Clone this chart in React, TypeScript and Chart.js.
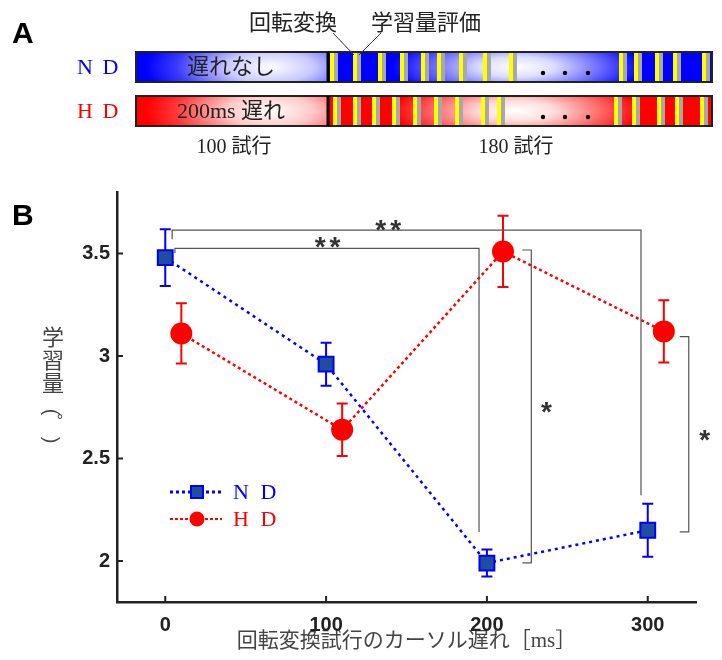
import React, { useEffect, useRef } from 'react';
import { Chart, registerables } from 'chart.js';
Chart.register(...registerables);

// ---------- data (panel B) ----------
const delays = [0, 100, 200, 300];
const hdOffset = 10;
const ndMean = [3.48, 2.96, 1.99, 2.15];
const ndErr = [0.138, 0.105, 0.066, 0.129];
const hdMean = [3.11, 2.64, 3.51, 3.12];
const hdErr = [0.147, 0.128, 0.174, 0.152];
const xTicks = [0, 100, 200, 300];
const yTicks = [2, 2.5, 3, 3.5];
const xRange = [-30, 330];
const yRange = [1.8, 3.8];
const seriesNames = ['N D', 'H D'];
const xTitle = '回転変換試行のカーソル遅れ［ms］';
const yTitleChars = ['学', '習', '量'];
const yTitleUnit = ['(', '°', ')'];

// significance brackets, in data units: path points and star label
const bracketPaths = [
  [[6, 3.503], [6, 3.525], [195.1, 3.525], [195.1, 2.142]],
  [[4.3, 3.57], [4.3, 3.614], [295.8, 3.614], [295.8, 2.321]],
  [[222, 3.517], [227.6, 3.517], [227.6, 1.991], [222, 1.991]],
  [[319.9, 3.095], [325.5, 3.095], [325.5, 2.142], [319.9, 2.142]],
];
const bracketLabels = ['**', '**', '*', '*'];
const bracketLabelPos = [[100.9, 3.557], [138.6, 3.64], [237, 2.748], [335.4, 2.613]];

// ---------- schematic (panel A) ----------
const ndStripes = [330, 353, 378, 400, 421, 437, 459, 483, 509, 619, 634, 655, 673, 702];
const hdStripes = [333, 353, 372, 392, 413, 434, 455, 481, 497, 614, 632, 657, 675, 700];
const blockLabels = ['100 試行', '180 試行'];
const trialLabels = ['回転変換', '学習量評価'];
const conditionTexts = ['遅れなし', '200ms 遅れ'];

const BLUE = '#0000ff';
const RED = '#ff0000';
const SQFILL = '#1f4e9e';
const SANS = '"Liberation Sans", Arial, sans-serif';
const CJK = '"Noto Sans CJK JP", sans-serif';
const SERIF_MIX = '"Liberation Serif", "Noto Sans CJK JP", serif';

function ellipseGrad(ctx, x, y, w, h, cx, cy, rx, ry, stops) {
  ctx.save();
  ctx.beginPath();
  ctx.rect(x, y, w, h);
  ctx.clip();
  ctx.translate(cx, cy);
  ctx.scale(rx / ry, 1);
  const g = ctx.createRadialGradient(0, 0, 0, 0, 0, ry);
  stops.forEach(([o, c]) => g.addColorStop(o, c));
  ctx.fillStyle = g;
  ctx.fillRect(((x - cx) * ry) / rx - 2, y - cy - 2, (w * ry) / rx + 4, h + 4);
  ctx.restore();
}

function drawPanelA(ctx) {
  const L = 136, R = 712, S = 328, H = 30;
  const rows = [
    { y: 52, base: BLUE, light: ['#ffffff', '#c8c8ff', '#3a3aff'], mid: ['#ffffff', '#dcdcff', '#7070ff'], stripes: ndStripes, color: BLUE },
    { y: 96, base: RED, light: ['#ffffff', '#ffc8c8', '#ff3a3a'], mid: ['#ffffff', '#ffdcdc', '#ff7070'], stripes: hdStripes, color: RED },
  ];
  rows.forEach((r, k) => {
    ctx.fillStyle = r.base;
    ctx.fillRect(L, r.y, R - L, H);
    ellipseGrad(ctx, L, r.y, S - L, H, 270, r.y + H / 2, 125, 45,
      [[0, r.light[0]], [0.35, r.light[1]], [0.75, r.light[2]], [1, r.base]]);
    ellipseGrad(ctx, S, r.y, R - S, H, 517, r.y + H / 2, 125, 34,
      [[0, r.mid[0]], [0.3, r.mid[1]], [0.65, r.mid[2]], [1, r.base]]);
    r.stripes.forEach((sx) => {
      ctx.fillStyle = '#ffff00';
      ctx.fillRect(sx, r.y, 4, H);
      ctx.fillStyle = '#a8a8a8';
      ctx.fillRect(sx + 4, r.y, 4, H);
    });
    ctx.strokeStyle = '#222';
    ctx.lineWidth = 2;
    ctx.strokeRect(L, r.y, R - L, H);
    ctx.fillStyle = '#000';
    ctx.fillRect(S - 1.5, r.y, 3, H);
    // dots
    [543, 565, 588].forEach((dx) => {
      ctx.beginPath();
      ctx.arc(dx, r.y + 21, 2.2, 0, Math.PI * 2);
      ctx.fill();
    });
    // row label
    ctx.fillStyle = r.color;
    ctx.font = `22px ${SERIF_MIX}`;
    ctx.textAlign = 'left';
    ctx.textBaseline = 'middle';
    ctx.letterSpacing = '2px';
    ctx.fillText(seriesNames[k], 77, r.y + 16);
    ctx.letterSpacing = '0px';
    // condition text
    ctx.fillStyle = '#222';
    ctx.font = `22px ${SERIF_MIX}`;
    ctx.textAlign = 'center';
    ctx.fillText(conditionTexts[k], 231, r.y + 16);
  });
  ctx.fillStyle = '#222';
  ctx.font = `20px ${SERIF_MIX}`;
  ctx.textAlign = 'center';
  ctx.textBaseline = 'middle';
  ctx.fillText(blockLabels[0], 234, 148);
  ctx.fillText(blockLabels[1], 516, 148);
  ctx.font = `22px ${CJK}`;
  ctx.fillText(trialLabels[0], 293, 22);
  ctx.fillText(trialLabels[1], 426, 22);
  ctx.strokeStyle = '#333';
  ctx.lineWidth = 1;
  ctx.beginPath();
  ctx.moveTo(333, 33); ctx.lineTo(354, 55);
  ctx.moveTo(381, 33); ctx.lineTo(359, 55);
  ctx.stroke();
}

const customPlugin = {
  id: 'custom',
  beforeDatasetsDraw(chart) {
    const { ctx, scales: { x, y } } = chart;
    const series = [
      { xs: delays, m: ndMean, e: ndErr, c: BLUE },
      { xs: delays.map((d) => d + hdOffset), m: hdMean, e: hdErr, c: RED },
    ];
    ctx.save();
    series.forEach((s) => {
      ctx.strokeStyle = s.c;
      ctx.lineWidth = 2;
      s.xs.forEach((xv, i) => {
        const px = x.getPixelForValue(xv);
        const t = y.getPixelForValue(s.m[i] + s.e[i]);
        const b = y.getPixelForValue(s.m[i] - s.e[i]);
        ctx.beginPath();
        ctx.moveTo(px, t); ctx.lineTo(px, b);
        ctx.moveTo(px - 5.5, t); ctx.lineTo(px + 5.5, t);
        ctx.moveTo(px - 5.5, b); ctx.lineTo(px + 5.5, b);
        ctx.stroke();
      });
    });
    ctx.restore();
  },
  afterDraw(chart) {
    const { ctx, chartArea: ca, scales: { x, y } } = chart;
    ctx.save();
    // inward ticks
    ctx.strokeStyle = '#222';
    ctx.lineWidth = 2;
    ctx.beginPath();
    xTicks.forEach((v) => {
      const px = x.getPixelForValue(v);
      ctx.moveTo(px, ca.bottom); ctx.lineTo(px, ca.bottom - 6);
    });
    yTicks.forEach((v) => {
      const py = y.getPixelForValue(v);
      ctx.moveTo(ca.left, py); ctx.lineTo(ca.left + 6, py);
    });
    ctx.stroke();

    // brackets
    ctx.strokeStyle = '#555';
    ctx.lineWidth = 1.2;
    bracketPaths.forEach((p) => {
      ctx.beginPath();
      p.forEach(([dx, dy], i) => {
        const px = x.getPixelForValue(dx), py = y.getPixelForValue(dy);
        if (i === 0) ctx.moveTo(px, py); else ctx.lineTo(px, py);
      });
      ctx.stroke();
    });
    ctx.fillStyle = '#333';
    ctx.font = `bold 28px ${SANS}`;
    ctx.textAlign = 'center';
    ctx.textBaseline = 'middle';
    bracketLabels.forEach((t, i) => {
      const [dx, dy] = bracketLabelPos[i];
      ctx.letterSpacing = t.length > 1 ? '4px' : '0px';
      ctx.fillText(t, x.getPixelForValue(dx) + (t.length > 1 ? 2 : 0), y.getPixelForValue(dy) + 6);
    });
    ctx.letterSpacing = '0px';

    // legend
    const lx0 = 170, lx1 = 222, lmx = 197;
    const rowsY = [492, 519];
    ctx.setLineDash([3, 3]);
    ctx.lineWidth = 3;
    ctx.strokeStyle = BLUE;
    ctx.beginPath(); ctx.moveTo(lx0, rowsY[0]); ctx.lineTo(lx1, rowsY[0]); ctx.stroke();
    ctx.lineWidth = 2;
    ctx.setLineDash([3, 2]);
    ctx.strokeStyle = RED;
    ctx.beginPath(); ctx.moveTo(lx0, rowsY[1]); ctx.lineTo(lx1, rowsY[1]); ctx.stroke();
    ctx.setLineDash([]);
    ctx.fillStyle = SQFILL;
    ctx.strokeStyle = BLUE;
    ctx.lineWidth = 2;
    ctx.fillRect(lmx - 6, rowsY[0] - 6, 12, 12);
    ctx.strokeRect(lmx - 6, rowsY[0] - 6, 12, 12);
    ctx.fillStyle = RED;
    ctx.beginPath(); ctx.arc(lmx, rowsY[1], 7.5, 0, Math.PI * 2); ctx.fill();
    ctx.font = `22px ${SERIF_MIX}`;
    ctx.textAlign = 'left';
    ctx.letterSpacing = '3px';
    ctx.fillStyle = BLUE;
    ctx.fillText(seriesNames[0], 233, rowsY[0] + 1);
    ctx.fillStyle = RED;
    ctx.fillText(seriesNames[1], 233, rowsY[1] + 1);
    ctx.letterSpacing = '0px';

    // y title (vertical)
    ctx.fillStyle = '#444';
    ctx.font = `22px ${CJK}`;
    ctx.textAlign = 'center';
    const ty = [337, 360, 383];
    yTitleChars.forEach((c, i) => ctx.fillText(c, 53, ty[i]));
    ctx.font = `20px ${SANS}`;
    [[412, 0], [440, 2]].forEach(([py, k]) => {
      ctx.save();
      ctx.translate(51, py);
      ctx.rotate(Math.PI / 2);
      ctx.fillText(yTitleUnit[k], 0, 0);
      ctx.restore();
    });
    ctx.font = `16px ${SANS}`;
    ctx.fillText(yTitleUnit[1], 60, 422);

    // panel letters
    ctx.fillStyle = '#000';
    ctx.font = `bold 30px ${SANS}`;
    ctx.textAlign = 'left';
    ctx.textBaseline = 'alphabetic';
    ctx.fillText('A', 12, 43);
    ctx.fillText('B', 12, 225);

    drawPanelA(ctx);
    ctx.restore();
  },
};

export default function App() {
  const ref = useRef(null);
  useEffect(() => {
    const chart = new Chart(ref.current, {
      type: 'line',
      data: {
        datasets: [
          {
            label: 'ND',
            data: delays.map((d, i) => ({ x: d, y: ndMean[i] })),
            borderColor: BLUE,
            borderWidth: 2.5,
            borderDash: [3, 4],
            pointStyle: 'rect',
            pointRadius: 10.5,
            pointBackgroundColor: SQFILL,
            pointBorderColor: BLUE,
            pointBorderWidth: 2,
            tension: 0,
          },
          {
            label: 'HD',
            data: delays.map((d, i) => ({ x: d + hdOffset, y: hdMean[i] })),
            borderColor: RED,
            borderWidth: 2.5,
            borderDash: [3, 3],
            pointStyle: 'circle',
            pointRadius: 11,
            pointBackgroundColor: RED,
            pointBorderColor: RED,
            pointBorderWidth: 0,
            tension: 0,
          },
        ],
      },
      options: {
        animation: false,
        responsive: false,
        devicePixelRatio: 1,
        layout: { padding: { left: 0, right: 26, top: 192, bottom: 0 } },
        plugins: { legend: { display: false }, tooltip: { enabled: false } },
        scales: {
          x: {
            type: 'linear',
            min: xRange[0],
            max: xRange[1],
            afterBuildTicks: (s) => { s.ticks = xTicks.map((v) => ({ value: v })); },
            afterFit: (s) => { s.height = 58; },
            grid: { display: false, drawTicks: false },
            border: { display: true, color: '#222', width: 2.5 },
            ticks: { padding: 11, color: '#222', font: { family: SANS, size: 20, weight: 'bold' }, callback: (v) => `${v}` },
            title: {
              display: true,
              text: xTitle,
              color: '#444',
              font: { family: SERIF_MIX, size: 21 },
              padding: { top: 0, bottom: 6 },
            },
          },
          y: {
            type: 'linear',
            min: yRange[0],
            max: yRange[1],
            afterBuildTicks: (s) => { s.ticks = yTicks.map((v) => ({ value: v })); },
            afterFit: (s) => { s.width = 117; },
            grid: { display: false, drawTicks: false },
            border: { display: true, color: '#222', width: 2.5 },
            ticks: { padding: 7, color: '#222', font: { family: SANS, size: 20, weight: 'bold' }, callback: (v) => `${v}` },
          },
        },
      },
      plugins: [customPlugin],
    });
    return () => chart.destroy();
  }, []);
  return (
    <div style={{ position: 'fixed', left: 0, top: 0, width: 722, height: 660, background: '#fff' }}>
      <canvas ref={ref} width={722} height={660} style={{ display: 'block', width: 722, height: 660 }} />
    </div>
  );
}
